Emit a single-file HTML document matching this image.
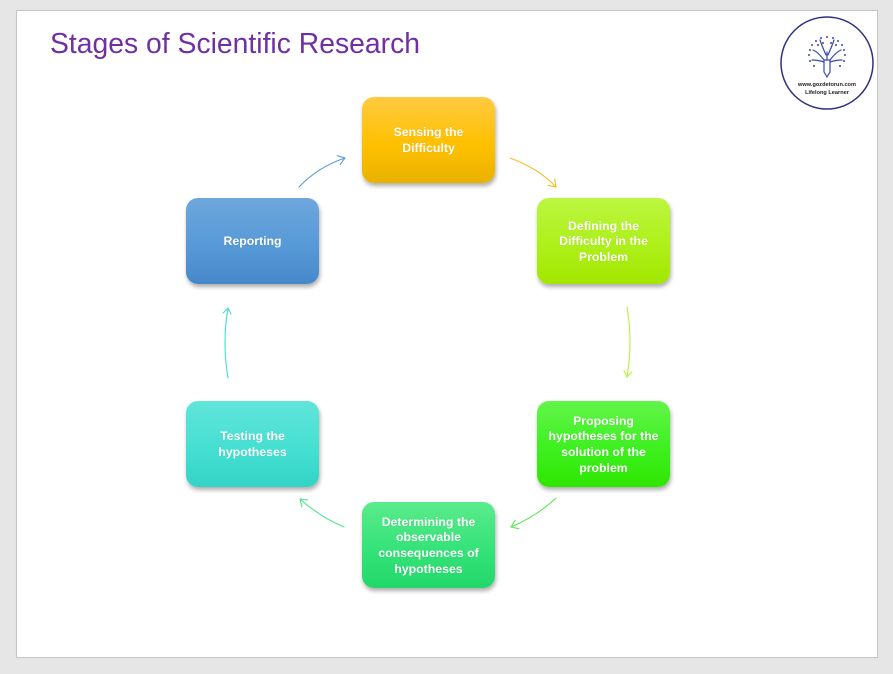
<!DOCTYPE html>
<html><head><meta charset="utf-8">
<style>
html,body{margin:0;padding:0;}
body{width:893px;height:674px;background:#e6e6e6;position:relative;overflow:hidden;font-family:"Liberation Sans",sans-serif;}
.slide{position:absolute;left:16px;top:10px;width:860px;height:646px;background:#fff;border:1px solid #c6c6c6;box-shadow:0 0 1px rgba(0,0,0,0.05);}
.box{position:absolute;width:133px;height:86px;box-sizing:border-box;padding-top:2px;border-radius:12px;display:flex;align-items:center;justify-content:center;text-align:center;color:#fff;font-weight:bold;font-size:12.3px;line-height:15.6px;box-shadow:1px 3px 4px rgba(0,0,0,0.32);text-shadow:0 0 1px rgba(0,0,0,0.15);}
svg{position:absolute;left:0;top:0;}
</style></head><body>
<div class="slide"></div>

<svg width="893" height="674" viewBox="0 0 893 674">
  <text x="50" y="53" font-family="Liberation Sans, sans-serif" font-size="29" fill="#7030a0" textLength="370" lengthAdjust="spacingAndGlyphs">Stages of Scientific Research</text>

  <!-- logo -->
  <circle cx="827" cy="63" r="46" fill="#fff" stroke="#2e3180" stroke-width="1.5"/>
  <g stroke="#3a4aa0" stroke-width="1.2" stroke-linecap="round" fill="none">
    <path d="M827 73 L827 52"/>
    <path d="M824 60 L824 72 L827 77 L830 72 L830 60 Z" fill="#fff"/>
    <path d="M824 60 Q818 52 813 50"/>
    <path d="M830 60 Q836 52 841 50"/>
    <path d="M826 55 Q822 46 820 40"/>
    <path d="M828 55 Q832 46 834 40"/>
    <path d="M824 62 Q818 60 812 60"/>
    <path d="M830 62 Q836 60 842 60"/>
  </g>
  <g fill="#3a4aa0">
    <circle cx="827" cy="37" r="1"/><circle cx="821" cy="38" r="1"/><circle cx="833" cy="38" r="1"/>
    <circle cx="816" cy="41" r="1"/><circle cx="838" cy="41" r="1"/><circle cx="812" cy="45" r="1"/>
    <circle cx="842" cy="45" r="1"/><circle cx="810" cy="50" r="1"/><circle cx="844" cy="50" r="1"/>
    <circle cx="809" cy="55" r="1"/><circle cx="845" cy="55" r="1"/><circle cx="810" cy="61" r="1"/>
    <circle cx="844" cy="61" r="1"/><circle cx="814" cy="66" r="1"/><circle cx="840" cy="66" r="1"/>
    <circle cx="818" cy="45" r="1"/><circle cx="836" cy="45" r="1"/><circle cx="823" cy="43" r="1"/><circle cx="831" cy="43" r="1"/>
  </g>
  <text x="827" y="86" text-anchor="middle" font-family="Liberation Sans, sans-serif" font-size="5.6" font-weight="bold" fill="#222">www.gozdetorun.com</text>
  <text x="827" y="94" text-anchor="middle" font-family="Liberation Sans, sans-serif" font-size="5.6" font-weight="bold" fill="#222">Lifelong Learner</text>

  <!-- connectors -->
  <g fill="none" stroke-width="1.1" stroke-linecap="round" stroke-linejoin="round">
    <g stroke="#5b9bd5">
      <path d="M299,187 Q318,167 345,158"/>
      <polyline points="337.3,155.7 345,158 340.2,164.4"/>
    </g>
    <g stroke="#f5bd1f">
      <path d="M510,158 Q538,168 556,187"/>
      <polyline points="554.8,179.1 556,187 548.2,185.4"/>
    </g>
    <g stroke="#b5f03a">
      <path d="M627,307 Q633,342 627,377"/>
      <polyline points="631.9,372 627,377 624,370.7"/>
    </g>
    <g stroke="#5ee85a">
      <path d="M556,498 Q537,516 511,527"/>
      <polyline points="518.8,528.7 511,527 515.2,520.2"/>
    </g>
    <g stroke="#4ee48a">
      <path d="M344,527 Q320,517 300,499"/>
      <polyline points="301.8,506.8 300,499 307.9,500"/>
    </g>
    <g stroke="#40e0d0">
      <path d="M228,378 Q222,343 228,308"/>
      <polyline points="223.1,313 228,308 231,314.3"/>
    </g>
  </g>
</svg>

<div class="box" style="left:362px;top:97px;background:linear-gradient(#ffca42,#ffc000 55%,#e9b200);">Sensing the<br>Difficulty</div>
<div class="box" style="left:537px;top:198px;background:linear-gradient(#bcf640,#aef01a 55%,#a2e600);">Defining the<br>Difficulty in the<br>Problem</div>
<div class="box" style="left:537px;top:401px;background:linear-gradient(#62f54a,#3ef020 55%,#2ee600);">Proposing<br>hypotheses for the<br>solution of the<br>problem</div>
<div class="box" style="left:362px;top:502px;background:linear-gradient(#5beb8c,#35e379 55%,#22d86a);">Determining the<br>observable<br>consequences of<br>hypotheses</div>
<div class="box" style="left:186px;top:401px;background:linear-gradient(#62e4da,#45e0d2 55%,#33d3c6);">Testing the<br>hypotheses</div>
<div class="box" style="left:186px;top:198px;background:linear-gradient(#6ea6dc,#579ad8 55%,#4688c9);">Reporting</div>
</body></html>
